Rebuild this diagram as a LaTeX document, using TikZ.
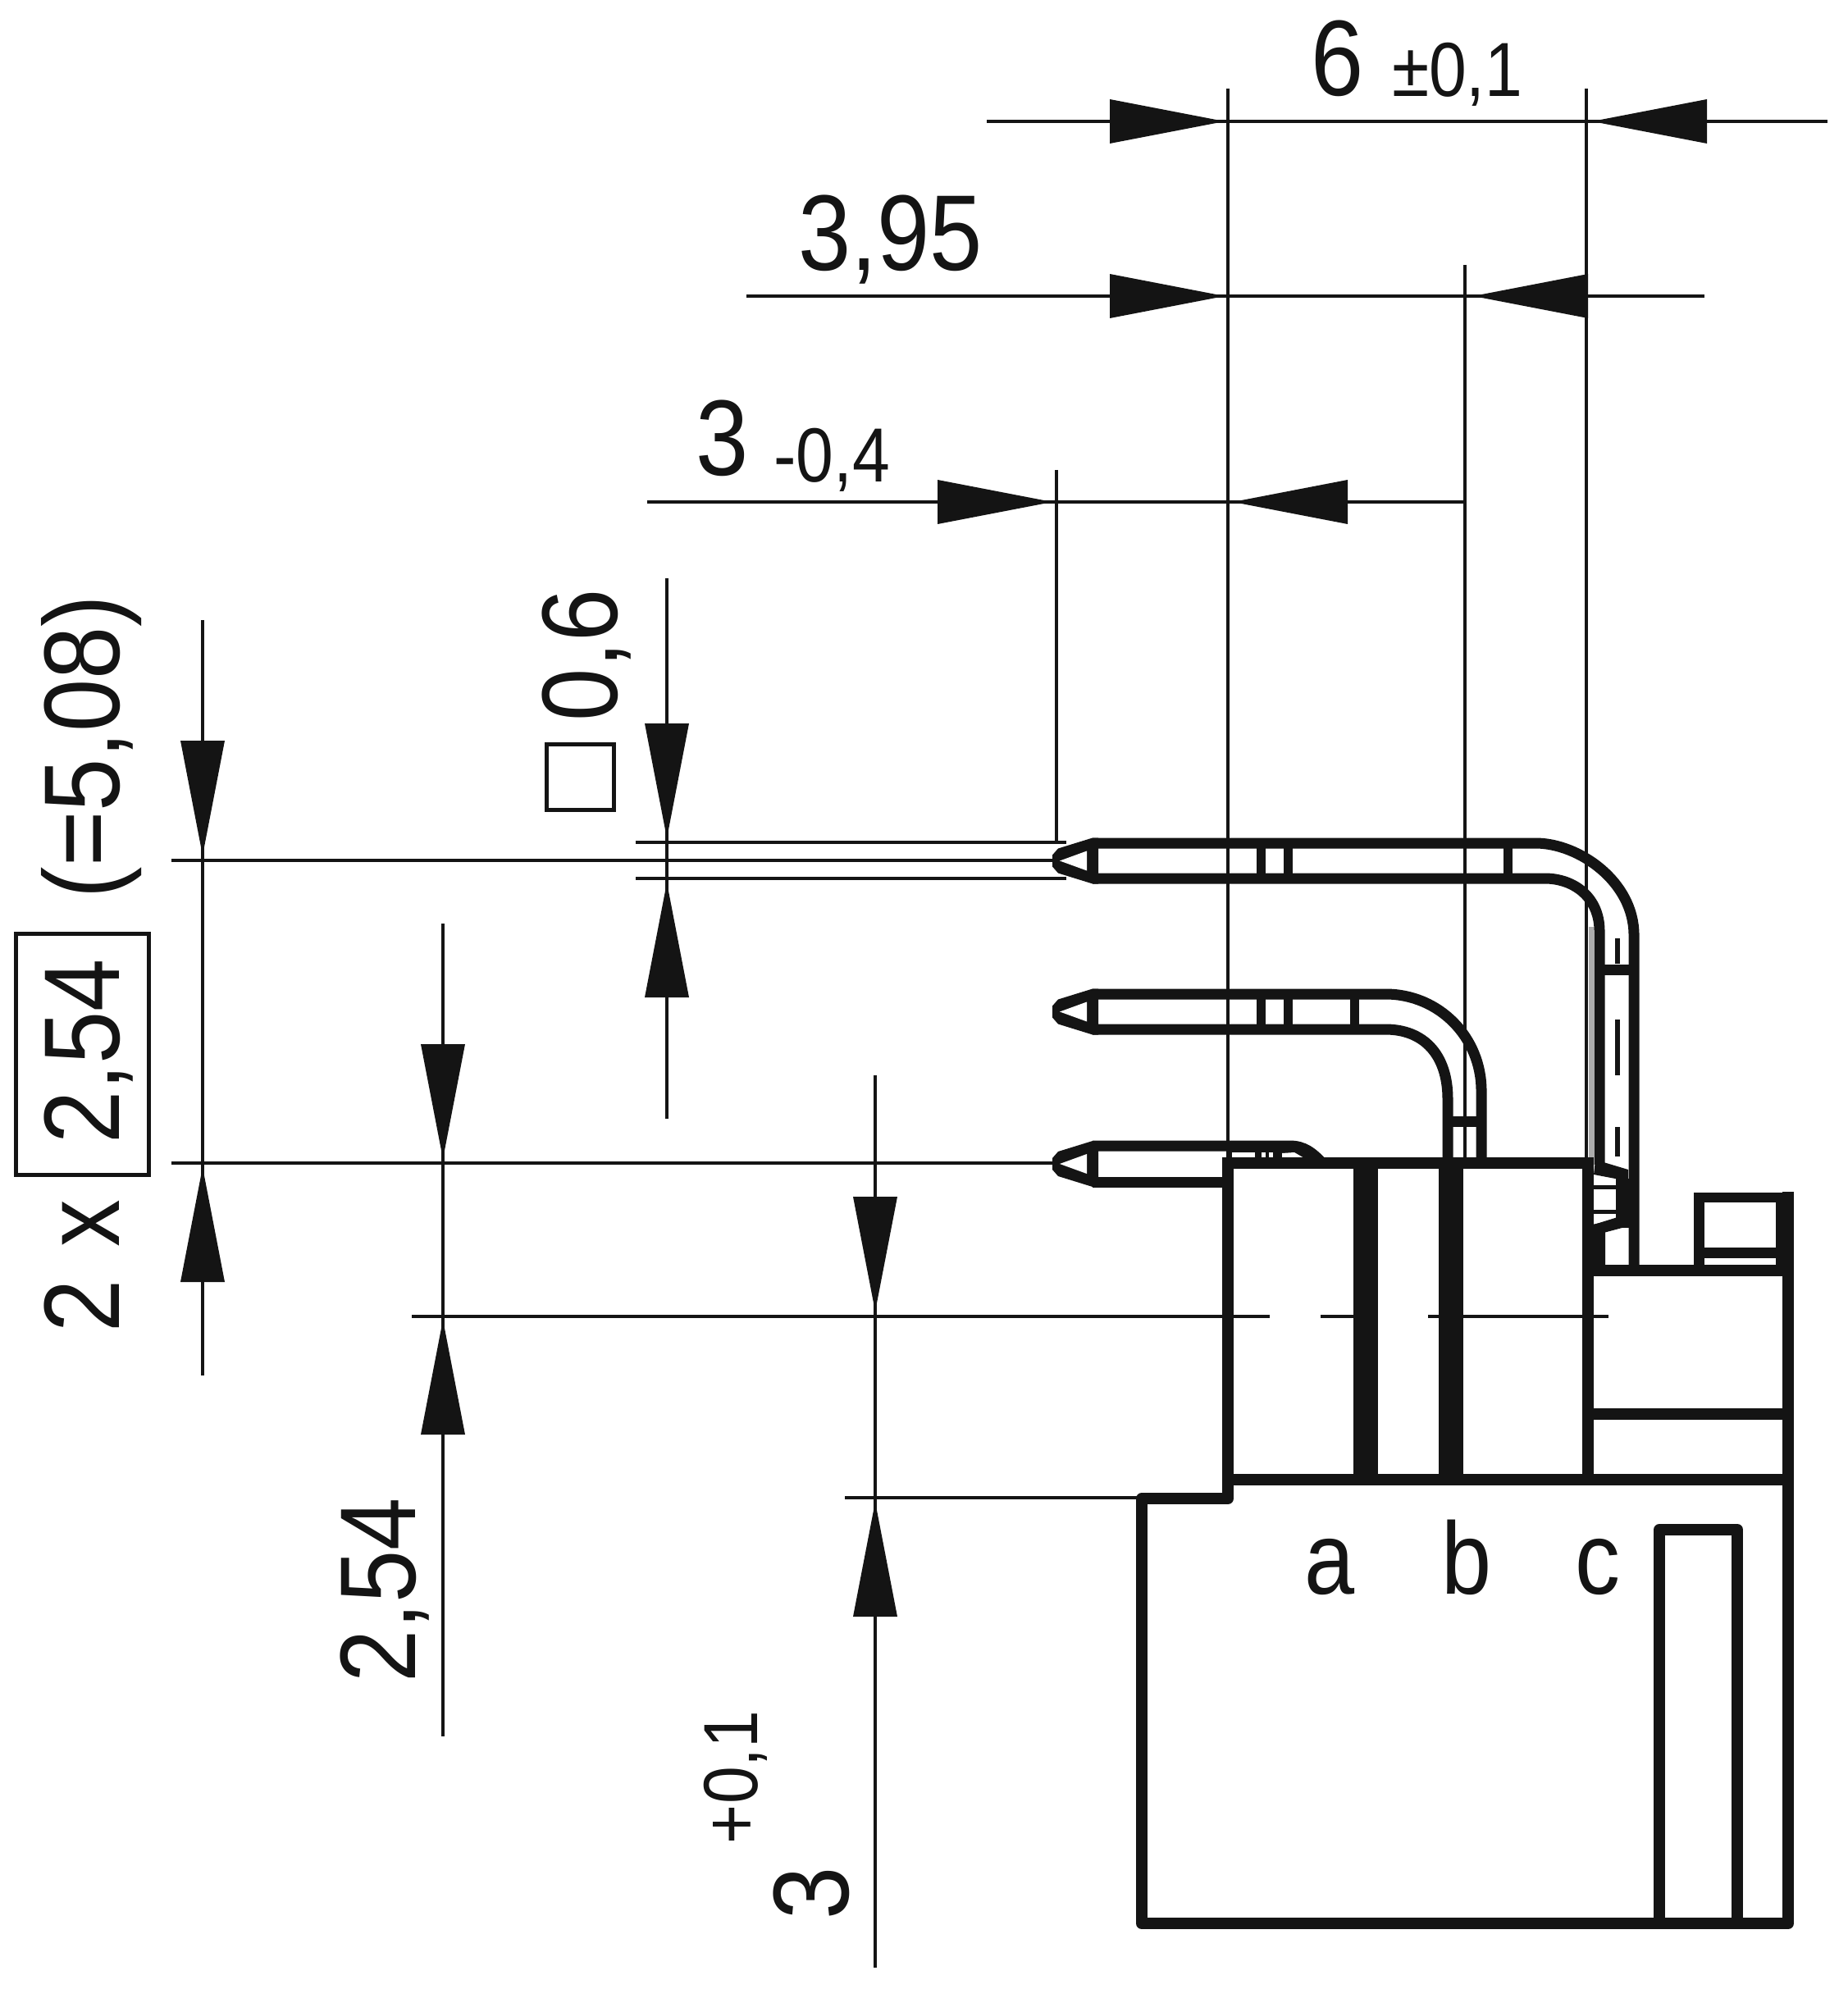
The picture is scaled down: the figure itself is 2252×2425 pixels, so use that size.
\documentclass[tikz,border=0pt]{standalone}
\usepackage{fontspec}
\setmainfont[FakeStretch=0.88]{Liberation Sans}
\newcommand{\bigtxt}{\fontsize{37.3pt}{40pt}\selectfont}
\newcommand{\tol}{\fontsize{26.6pt}{30pt}\selectfont}
\newcommand{\lett}{\fontsize{35.5pt}{40pt}\selectfont}
\tikzset{
  thin line/.style={line width=0.045cm,black!92},
  pinline/.style={line width=0.13cm,black!92,line cap=butt},
  rib/.style={line width=0.11cm,black!92},
  wall/.style={line width=0.14cm,black!92,line cap=rect,line join=round},
  core/.style={line width=0.3cm,black!92},
  solid black/.style={fill=black!92,draw=none},
  label/.style={inner sep=0pt,outer sep=0pt,anchor=base west,text=black!92},
  head/.style={fill=black!92,draw=none},
}
% arrow heads: tail end at #1,#2
\newcommand{\headR}[2]{\fill[head,shift={(#1,#2)}] (140,0)--(0,-27)--(0,27)--cycle;}
\newcommand{\headL}[2]{\fill[head,shift={(#1,#2)}] (-140,0)--(0,-27)--(0,27)--cycle;}
\newcommand{\headD}[2]{\fill[head,shift={(#1,#2)}] (0,140)--(-27,0)--(27,0)--cycle;}
\newcommand{\headU}[2]{\fill[head,shift={(#1,#2)}] (0,-140)--(-27,0)--(27,0)--cycle;}
% pin tip centred on height #1
\newcommand{\pintip}[1]{%
  \begin{scope}[shift={(0,#1)}]
    \fill[solid black] (1339,-28)--(1332,-28)--(1290,-15)--(1283,-7)--(1283,7)--(1290,15)--(1332,28)--(1339,28)--cycle;
    \fill[white] (1292,0)--(1325,-12)--(1325,12)--cycle;
  \end{scope}}
\begin{document}
\begin{tikzpicture}[x=0.01cm,y=-0.01cm]
\fill[white] (0,0) rectangle (2252,2425);
\useasboundingbox (0,0) rectangle (2252,2425);

% ---- named dimension points
\coordinate (e1t) at (1497,108);  \coordinate (e1b) at (1497,1417);
\coordinate (e2t) at (1934,108);  \coordinate (e2b) at (1934,1417);
\coordinate (e3t) at (1786,323);  \coordinate (e3b) at (1786,1417);
\coordinate (e4t) at (1288,573);  \coordinate (e4b) at (1288,1028);
\coordinate (d6l) at (1203,148);  \coordinate (d6r) at (2228,148);
\coordinate (d39l) at (910,361);  \coordinate (d39r) at (2078,361);
\coordinate (d3l) at (789,612);   \coordinate (d3r) at (1786,612);
\coordinate (v1t) at (247,756);   \coordinate (v1b) at (247,1677);
\coordinate (v2t) at (540,1126);  \coordinate (v2b) at (540,2117);
\coordinate (v3t) at (1067,1311); \coordinate (v3b) at (1067,2399);
\coordinate (v4t) at (813,705);   \coordinate (v4b) at (813,1364);
\coordinate (h1l) at (209,1049);  \coordinate (h1r) at (1290,1049);
\coordinate (h2l) at (209,1418);  \coordinate (h2r) at (1290,1418);
\coordinate (h3l) at (775,1027);  \coordinate (h3r) at (1300,1027);
\coordinate (h4l) at (775,1071);  \coordinate (h4r) at (1300,1071);
\coordinate (c1l) at (502,1605);  \coordinate (c1r) at (1548,1605);
\coordinate (c2l) at (1610,1605); \coordinate (c2r) at (1655,1605);
\coordinate (c3l) at (1741,1605); \coordinate (c3r) at (1961,1605);
\coordinate (b1l) at (1030,1826); \coordinate (b1r) at (1392,1826);

% ---- thin lines
\foreach \a/\b in {e1t/e1b,e2t/e2b,e3t/e3b,e4t/e4b,d6l/d6r,d39l/d39r,d3l/d3r,
                   v1t/v1b,v2t/v2b,v3t/v3b,v4t/v4b,h1l/h1r,h2l/h2r,h3l/h3r,h4l/h4r,
                   c1l/c1r,c2l/c2r,c3l/c3r,b1l/b1r}
  \draw[thin line] (\a) -- (\b);

% ---- arrow heads
\headR{1353}{148} \headL{2081}{148}
\headR{1353}{361} \headL{1936}{361}
\headR{1143}{612} \headL{1643}{612}
\headD{247}{903} \headU{247}{1563}
\headD{540}{1273} \headU{540}{1749}
\headD{1067}{1459} \headU{1067}{1971}
\headD{813}{882} \headU{813}{1216}

% ---- top pin
\draw[pinline] (1332,1028) -- (1872,1028) .. controls (1925,1028) and (1992,1075) .. (1992,1140) -- (1992,1550);
\draw[pinline] (1332,1071) -- (1883,1071) .. controls (1920,1071) and (1950,1095) .. (1950,1135) -- (1950,1420);
\pintip{1049.5}
\foreach \x in {1537,1570,1838} \draw[rib] (\x,1028) -- (\x,1071);
\draw[line width=0.13cm,black!92] (1950,1182) -- (1992,1182);
\fill[gray!65] (1937,1130) rectangle (1943,1412);
\draw[line width=0.06cm,black!92] (1972,1144) -- (1972,1175) (1972,1243) -- (1972,1311) (1972,1374) -- (1972,1410);

% ---- middle pin
\draw[pinline] (1332,1212) -- (1689,1212) .. controls (1755,1212) and (1806,1265) .. (1806,1330) -- (1806,1417);
\draw[pinline] (1332,1255) -- (1689,1255) .. controls (1735,1255) and (1765,1285) .. (1765,1340) -- (1765,1417);
\pintip{1233.5}
\foreach \x in {1537,1570,1651} \draw[rib] (\x,1212) -- (\x,1255);
\draw[line width=0.13cm,black!92] (1765,1367) -- (1806,1367);

% ---- bottom pin
\draw[pinline] (1332,1397) -- (1572,1397) .. controls (1590,1397) and (1600,1405) .. (1614,1420);
\draw[pinline] (1332,1441) -- (1497,1441);
\pintip{1419}
\fill[solid black] (1497,1397) rectangle (1597,1418);
\fill[white] (1502,1405) rectangle (1530,1412);
\fill[white] (1563,1406) -- (1578,1405) -- (1590,1412) -- (1563,1412) -- cycle;
\fill[white] (1538,1405) rectangle (1543,1412);
\fill[white] (1547,1405) rectangle (1552,1412);

% ---- housing
\draw[wall] (1497,1418) -- (1936,1418);
\draw[wall] (1497,1418) -- (1497,1827) -- (1392,1827) -- (1392,2345) -- (2180,2345) -- (2180,1460);
\draw[wall] (1497,1804) -- (2180,1804);
\draw[wall] (1936,1418) -- (1936,1804);
\draw[wall] (1936,1549) -- (2180,1549);
\draw[wall] (1940,1724) -- (2180,1724);
\draw[core] (1665,1418) -- (1665,1804);
\draw[core] (1769,1418) -- (1769,1804);
\draw[wall] (2023,2345) -- (2023,1865) -- (2118,1865) -- (2118,2345);

% ---- latch at the foot of the top pin
\fill[solid black] (1970,1437) rectangle (1998,1497);
\fill[solid black] (1930,1495) -- (1968,1488) -- (1957,1500) -- (1957,1553) -- (1930,1553) -- cycle;
\fill[solid black] (1945,1414) -- (1985,1426) -- (1985,1440) -- (1943,1432) -- cycle;
\fill[solid black] (1943,1493) -- (1985,1480) -- (1985,1495) -- (1955,1503) -- (1943,1503) -- cycle;
\draw[line width=0.05cm,black!92] (1943,1447) -- (1970,1447) (1943,1477) -- (1970,1477);

% ---- small block on the right
\fill[solid black] (2065,1454) -- (2178,1454) -- (2186,1461) -- (2186,1549) -- (2065,1549) -- cycle;
\fill[white] (2078,1466) rectangle (2165,1521);
\fill[white] (2078,1534) rectangle (2165,1542);

% ---- pitch frame and square symbol
\node[draw=black!92,line width=0.05cm,inner sep=0pt,minimum width=1.61cm,minimum height=2.93cm,anchor=center] (frame) at (100.5,1285.5) {};
\node[draw=black!92,line width=0.05cm,inner sep=0pt,minimum width=0.81cm,minimum height=0.79cm,anchor=center] (sq) at (707.5,947.5) {};

% ---- labels
\node[label,font=\bigtxt] (t6) at (1598,117) {6};
\node[label,font=\tol] (t6t) at (1697,118) {±0,1};
\node[label,font=\bigtxt] (t395) at (973,330) {3,95};
\node[label,font=\bigtxt] (t3) at (848,580) {3};
\node[label,font=\tol] (t3t) at (943,588) {-0,4};
\node[label,font=\bigtxt,rotate=90] (t06) at (752,879) {0,6};
\node[label,font=\bigtxt,rotate=90] (t2x) at (145,1624) {2\hspace{0.3em}x};
\node[label,font=\bigtxt,rotate=90] (t254a) at (145,1394) {2,54};
\node[label,font=\bigtxt,rotate=90] (t508) at (145,1095) {(=5,08)};
\node[label,font=\bigtxt,rotate=90] (t254b) at (506,2051) {2,54};
\node[label,font=\bigtxt,rotate=90] (t3b) at (1034,2340) {3};
\node[label,font=\tol,rotate=90] (t3bt) at (923,2248) {+0,1};
\node[label,font=\lett] (la) at (1590,1943) {a};
\node[label,font=\lett] (lb) at (1757,1943) {b};
\node[label,font=\lett] (lc) at (1920,1943) {c};
\end{tikzpicture}
\end{document}
